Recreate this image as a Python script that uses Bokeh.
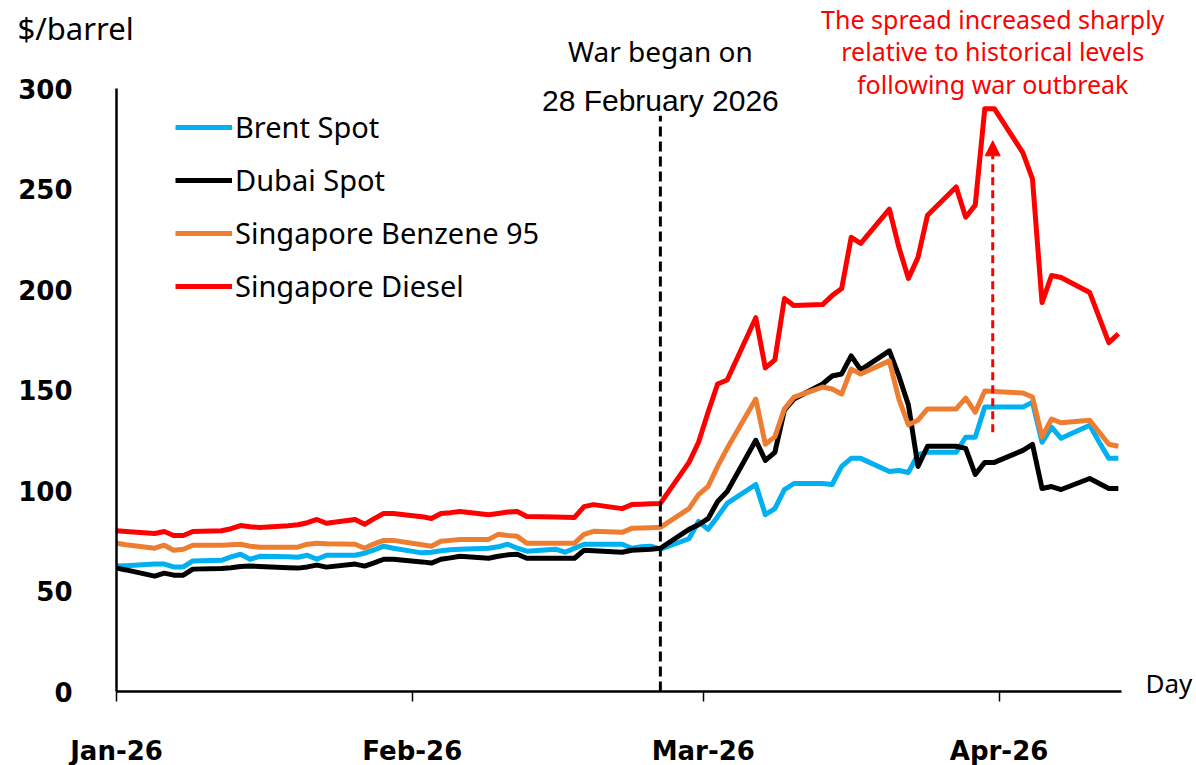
import pandas as pd
from bokeh.plotting import figure
from bokeh.models import (Range1d, FixedTicker, DatetimeTickFormatter, Legend, LegendItem,
                          Label, Arrow, NormalHead, ColumnDataSource)
from bokeh.embed import file_html
from bokeh.resources import INLINE

# ---------------- data ----------------
dates = pd.bdate_range("2026-01-01", "2026-04-16")

brent = [62.4, 62.6, 63.4, 63.4, 62.0, 62.0, 65.0, 65.3, 67.0, 68.3, 65.8, 67.3, 67.0, 66.8, 67.8, 65.8, 67.8, 67.8, 68.8, 70.5, 72.3, 71.3,
         69.0, 69.3, 70.0, 70.5, 70.8, 71.3, 72.0, 73.3, 71.3, 69.8, 70.8, 69.3, 71.3, 73.3, 73.3, 73.3, 71.3, 72.0, 72.3, 70.8,
         76.0, 84.6, 80.7, 87.0, 93.6, 103.0, 88.0, 91.0, 100.5, 103.5, 103.5, 103.0, 112.0, 116.0, 116.0, 109.5, 110.0, 109.0, 118.0, 119.0, 119.0, 126.5,
         126.5, 141.5, 141.5, 141.5, 144.0, 124.0, 131.5, 126.0, 132.5, 124.0, 116.0, 116.0]

dubai = [61.4, 60.5, 57.4, 58.9, 57.9, 57.9, 60.9, 61.2, 61.6, 62.2, 62.4, 62.2, 61.6, 61.4, 62.0, 62.9, 61.9, 63.4, 62.4, 64.0, 65.8, 65.8,
         64.5, 63.9, 65.8, 66.5, 67.3, 66.3, 67.3, 68.0, 68.3, 66.3, 66.3, 66.3, 66.3, 70.3, 70.0, 69.3, 70.3, 70.5, 70.8, 71.3,
         80.7, 83.0, 86.0, 94.5, 99.5, 125.0, 115.0, 119.0, 140.0, 145.5, 153.0, 157.0, 158.0, 167.0, 160.0, 169.5, 157.0, 142.5, 112.0, 122.0, 122.0, 121.0,
         108.0, 114.0, 114.0, 120.0, 123.0, 101.0, 102.0, 100.5, 106.0, 103.5, 101.0, 101.0]

benzene = [73.8, 73.0, 71.3, 72.8, 70.3, 70.8, 72.8, 72.8, 73.0, 73.3, 72.3, 71.8, 71.8, 71.8, 73.3, 73.8, 73.5, 73.3, 71.3, 73.5, 75.2, 75.2,
           73.0, 72.3, 74.8, 75.2, 75.6, 75.7, 78.2, 77.6, 77.2, 73.8, 73.8, 73.8, 73.8, 78.2, 79.7, 79.2, 81.2, 81.4, 81.5, 81.7,
           91.0, 98.0, 102.0, 112.0, 121.0, 145.5, 123.0, 126.7, 140.6, 146.5, 151.5, 150.5, 148.0, 160.4, 158.0, 164.5, 145.5, 132.7, 135.0, 140.6, 140.6, 146.0,
           139.0, 149.5, 149.3, 148.5, 146.5, 126.7, 135.6, 133.7, 135.0, 129.0, 123.0, 122.0]

diesel = [80.0, 79.6, 78.6, 79.6, 77.6, 77.6, 79.6, 80.0, 81.0, 82.6, 82.0, 81.6, 82.5, 83.0, 84.0, 85.6, 83.7, 85.6, 83.2, 86.0, 88.6, 88.6,
          87.0, 86.1, 88.6, 89.0, 89.6, 88.0, 88.6, 89.3, 89.6, 87.1, 86.8, 86.7, 86.6, 92.0, 93.0, 91.0, 93.0, 93.2, 93.4, 93.6,
          114.0, 124.0, 139.0, 153.0, 155.0, 186.0, 161.0, 165.0, 195.5, 192.0, 192.5, 197.0, 200.5, 226.0, 223.0, 240.0, 221.0, 205.5, 216.0, 237.0, 251.0, 236.0,
          242.0, 290.0, 290.0, 268.0, 255.0, 193.5, 207.0, 206.0, 198.5, 186.0, 173.6, 178.0]

series_names = ["Brent Spot", "Dubai Spot", "Singapore Benzene 95", "Singapore Diesel"]
series_colors = ["#00B0F0", "#000000", "#ED7D31", "#FF0000"]

y_ticks = [0, 50, 100, 150, 200, 250, 300]
x_tick_dates = ["2026-01-01", "2026-02-01", "2026-03-03 12:00", "2026-04-03 12:00"]
x_start, x_end = "2026-01-01", "2026-04-16 08:00"
war_date = pd.Timestamp("2026-02-27")
war_line_top = 286.5
spread_date = pd.Timestamp("2026-04-02 20:00")
spread_arrow = (129, 274)
spread_text = ["The spread increased sharply", "relative to historical levels", "following war outbreak"]

W, H = 1196, 765
DAY = 86400000.0


def ms(ts):
    return pd.Timestamp(ts).value / 1e6


source = ColumnDataSource(dict(date=dates, brent=brent, dubai=dubai, benzene=benzene, diesel=diesel))

# frame covers the whole canvas; axes are pinned with fixed_location
p = figure(width=W, height=H, x_axis_type="datetime",
           x_range=Range1d(ms(x_start) - 12.16 * DAY, ms(x_start) + 113.19 * DAY),
           y_range=Range1d(-36.8, 343.8),
           output_backend="svg", toolbar_location=None,
           min_border_left=0, min_border_right=0, min_border_top=0, min_border_bottom=0)
p.outline_line_color = None
p.grid.visible = False
p.background_fill_color = "white"
p.border_fill_color = "white"

renderers = []
for col, color in zip(["brent", "dubai", "benzene", "diesel"], series_colors):
    r = p.line("date", col, source=source, line_color=color, line_width=5, line_join="round")
    renderers.append(r)

# war line
war_src = ColumnDataSource(dict(x0=[war_date], y0=[0], x1=[war_date], y1=[war_line_top]))
p.segment("x0", "y0", "x1", "y1", source=war_src, line_color="black", line_width=3, line_dash="10 5")

# arrow
p.add_layout(Arrow(end=NormalHead(size=15, fill_color="#FF0000", line_color="#FF0000", line_width=1),
                   x_start=ms(spread_date), y_start=spread_arrow[0], x_end=ms(spread_date), y_end=spread_arrow[1],
                   line_color="#FF0000", line_width=3, line_dash="8 5"))

# axes
yax = p.yaxis[0]
yax.fixed_location = ms(x_start)
yax.ticker = FixedTicker(ticks=y_ticks)
yax.bounds = (0, 300)
yax.axis_line_width = 2.5
yax.major_tick_out = 0
yax.major_tick_in = 0
yax.minor_tick_out = 0
yax.minor_tick_in = 0
yax.major_label_standoff = 44
yax.major_label_text_font = "DejaVu Sans"
yax.major_label_text_font_style = "bold"
yax.major_label_text_font_size = "26px"
yax.major_label_text_color = "black"

xax = p.xaxis[0]
xax.fixed_location = 0
xax.ticker = FixedTicker(ticks=[ms(d) for d in x_tick_dates])
xax.bounds = (ms(x_start), ms(x_end))
fmt = "%b-%y"
xax.formatter = DatetimeTickFormatter(microseconds=fmt, milliseconds=fmt, seconds=fmt, minsec=fmt,
                                      minutes=fmt, hourmin=fmt, hours=fmt, days=fmt, months=fmt, years=fmt)
xax.axis_line_width = 2.5
xax.major_tick_out = 10
xax.major_tick_in = 0
xax.major_tick_line_width = 1.5
xax.minor_tick_out = 0
xax.minor_tick_in = 0
xax.major_label_standoff = 34
xax.major_label_text_font = "DejaVu Sans"
xax.major_label_text_font_style = "bold"
xax.major_label_text_font_size = "26px"
xax.major_label_text_color = "black"

# legend (screen position from the frame's bottom-left)
legend = Legend(items=[LegendItem(label=n, renderers=[r]) for n, r in zip(series_names, renderers)],
                location=(175, 460), orientation="vertical",
                border_line_color=None, background_fill_alpha=0, padding=0, margin=0,
                spacing=14, glyph_width=57, glyph_height=30, label_height=30, label_standoff=3,
                label_text_font="Noto Sans", label_text_font_size="29px", label_text_color="black")
p.add_layout(legend)

# texts (screen units measured from the bottom-left of the canvas-sized frame)
p.add_layout(Label(x=17, y=H - 27, x_units="screen", y_units="screen", text="$/barrel",
                   text_font="Noto Sans", text_font_size="31px", text_baseline="middle", text_color="black"))
p.add_layout(Label(x=1145, y=H - 682, x_units="screen", y_units="screen", text="Day",
                   text_font="Noto Sans", text_font_size="26px", text_baseline="middle", text_color="black"))
p.add_layout(Label(x=ms(war_date), y=H - 50, y_units="screen", text="War began on", text_align="center",
                   text_baseline="middle", text_font="Noto Sans", text_font_size="28px", text_color="black"))
p.add_layout(Label(x=ms(war_date), y=H - 100, y_units="screen", text="28 February 2026", text_align="center",
                   text_baseline="middle", text_font="Liberation Sans", text_font_size="30px", text_color="black"))
for t, ypage in zip(spread_text, [18, 50, 83]):
    p.add_layout(Label(x=ms(spread_date), y=H - ypage, y_units="screen", text=t, text_align="center",
                       text_baseline="middle", text_font="Noto Sans", text_font_size="25px", text_color="#FF0000"))

open("out.html", "w").write(file_html(p, INLINE))
